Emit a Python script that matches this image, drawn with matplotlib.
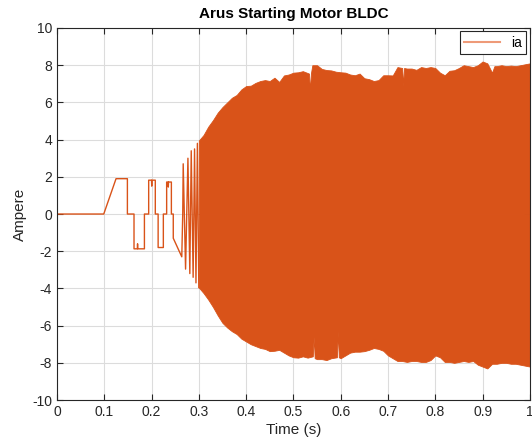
import matplotlib
matplotlib.use("Agg")
import matplotlib.pyplot as plt
from matplotlib.lines import Line2D

plt.rcParams['font.family'] = ['Liberation Sans', 'DejaVu Sans']
plt.rcParams['axes.unicode_minus'] = False

# start-up part of the phase current (breakpoints)
t_start = [0, 0.099, 0.125, 0.149, 0.149, 0.163, 0.163, 0.170, 0.1705, 0.171, 0.185, 0.185,
           0.194, 0.194, 0.200, 0.2005, 0.201, 0.208, 0.208, 0.214, 0.214, 0.225, 0.225,
           0.232, 0.232, 0.235, 0.2355, 0.236, 0.242, 0.242, 0.246, 0.246, 0.264, 0.266,
           0.267, 0.272, 0.277, 0.281, 0.284, 0.288, 0.291, 0.294, 0.297, 0.300]
i_start = [0, 0, 1.9, 1.9, 0, 0, -1.87, -1.87, -1.6, -1.87, -1.87, 0,
           0, 1.82, 1.82, 1.5, 1.82, 1.82, 0, 0, -1.8, -1.8, 0,
           0, 1.72, 1.72, 1.45, 1.72, 1.72, 0, 0, -1.3, -2.3, 0,
           2.7, -2.96, 3.0, -3.2, 3.4, -3.4, 3.5, -3.7, 3.8, -3.95]

# envelope of the fast switching part (upper peaks)
t_hi = [0.30, 0.31, 0.32, 0.33, 0.34, 0.35, 0.36, 0.37, 0.38, 0.39, 0.40, 0.41, 0.42,
        0.43, 0.44, 0.45, 0.46, 0.47, 0.48, 0.49, 0.50, 0.51, 0.52, 0.533, 0.535, 0.537,
        0.54, 0.55, 0.56, 0.57, 0.58, 0.59, 0.60, 0.61, 0.62, 0.63, 0.64, 0.65, 0.66,
        0.67, 0.68, 0.69, 0.70, 0.71, 0.72, 0.73, 0.732, 0.734, 0.74, 0.75, 0.76, 0.77,
        0.78, 0.79, 0.80, 0.81, 0.82, 0.83, 0.84, 0.85, 0.86, 0.87, 0.88, 0.89, 0.90,
        0.91, 0.92, 0.925, 0.93, 0.94, 0.95, 0.96, 0.97, 0.98, 0.99, 1.00]
i_hi = [3.95, 4.25, 4.7, 5.05, 5.45, 5.75, 6.0, 6.25, 6.4, 6.7, 6.88, 6.9, 7.05,
        7.15, 7.2, 7.15, 7.33, 7.1, 7.45, 7.5, 7.6, 7.62, 7.68, 7.55, 6.6, 7.55,
        8.0, 8.0, 7.8, 7.74, 7.72, 7.65, 7.62, 7.6, 7.5, 7.46, 7.55, 7.3, 7.25,
        7.15, 7.2, 7.46, 7.46, 7.45, 7.9, 7.85, 6.9, 7.85, 7.82, 7.82, 7.75, 7.9,
        7.85, 7.9, 7.85, 7.6, 7.46, 7.7, 7.73, 7.85, 8.0, 7.95, 7.9, 8.0, 8.2,
        8.1, 7.6, 7.95, 7.95, 8.0, 7.95, 7.98, 7.95, 8.0, 8.05, 8.1]

# envelope of the fast switching part (lower peaks)
t_lo = [0.30, 0.31, 0.32, 0.33, 0.34, 0.35, 0.36, 0.37, 0.38, 0.39, 0.40, 0.41, 0.42,
        0.43, 0.44, 0.45, 0.46, 0.47, 0.48, 0.49, 0.50, 0.51, 0.52, 0.53, 0.541, 0.543,
        0.545, 0.55, 0.56, 0.57, 0.58, 0.592, 0.594, 0.596, 0.60, 0.61, 0.62, 0.63, 0.64,
        0.65, 0.66, 0.67, 0.68, 0.69, 0.70, 0.71, 0.72, 0.73, 0.74, 0.75, 0.76, 0.77,
        0.78, 0.79, 0.80, 0.81, 0.82, 0.83, 0.84, 0.85, 0.86, 0.87, 0.88, 0.89, 0.90,
        0.91, 0.92, 0.93, 0.94, 0.95, 0.96, 0.97, 0.98, 0.99, 1.00]
i_lo = [-3.95, -4.25, -4.6, -5.0, -5.45, -5.85, -6.1, -6.3, -6.45, -6.7, -6.85, -7.0, -7.1,
        -7.2, -7.25, -7.37, -7.35, -7.3, -7.45, -7.6, -7.7, -7.72, -7.65, -7.72, -7.65, -6.6,
        -7.75, -7.8, -7.8, -7.85, -7.75, -7.7, -6.3, -7.7, -7.75, -7.6, -7.45, -7.4, -7.4,
        -7.37, -7.3, -7.2, -7.25, -7.35, -7.6, -7.75, -7.9, -7.9, -7.95, -7.9, -7.9, -7.95,
        -7.95, -7.85, -7.6, -7.7, -7.95, -7.95, -8.0, -7.95, -7.9, -7.95, -7.9, -8.1, -8.2,
        -8.3, -8.05, -8.05, -8.0, -8.0, -8.05, -8.05, -8.1, -8.15, -8.2]

x_ticks = [0, 0.1, 0.2, 0.3, 0.4, 0.5, 0.6, 0.7, 0.8, 0.9, 1]
x_labels = ['0', '0.1', '0.2', '0.3', '0.4', '0.5', '0.6', '0.7', '0.8', '0.9', '1']
y_ticks = [-10, -8, -6, -4, -2, 0, 2, 4, 6, 8, 10]

col = '#D95319'
dark = '#262626'

fig = plt.figure(figsize=(5.32, 4.48), dpi=100)
ax = fig.add_axes([0.107, 0.107, 0.889, 0.8305])

ax.plot(t_start, i_start, color=col, lw=1.0)
ax.fill_between(t_hi, 0, i_hi, color=col, lw=0.6, edgecolor=col)
ax.fill_between(t_lo, i_lo, 0, color=col, lw=0.6, edgecolor=col)

ax.set_xlim(0, 1)
ax.set_ylim(-10, 10)
ax.set_xticks(x_ticks)
ax.set_xticklabels(x_labels)
ax.set_yticks(y_ticks)
ax.grid(True, color='#dcdcdc', lw=0.8)
ax.set_axisbelow(True)
ax.tick_params(direction='in', top=True, right=True, colors=dark, labelsize=10, length=4)
for s in ax.spines.values():
    s.set_color(dark)
    s.set_linewidth(0.8)

ax.set_title('Arus Starting Motor BLDC', fontsize=11, fontweight='bold', color='black', pad=7)
ax.set_xlabel('Time (s)', fontsize=11, color=dark, labelpad=3)
ax.set_ylabel('Ampere', fontsize=11, color=dark, labelpad=4)

handle = Line2D([], [], color='#EE9A78', lw=1.5)
leg = ax.legend([handle], ['ia'], loc='upper right', fontsize=10, fancybox=False,
                framealpha=1, edgecolor=dark, borderaxespad=0.25, handlelength=2.6,
                borderpad=0.3)
leg.get_frame().set_linewidth(0.8)

fig.savefig('out.png', dpi=100)
